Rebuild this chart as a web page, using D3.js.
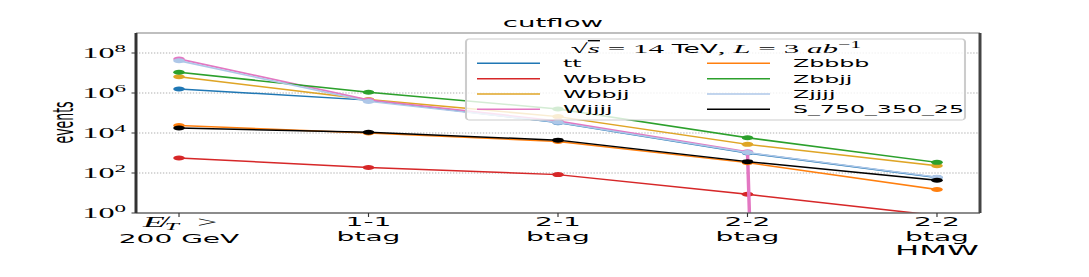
<!DOCTYPE html>
<html>
<head>
<meta charset="utf-8">
<script src="https://cdn.jsdelivr.net/npm/d3@7"></script>
<style>
  html, body { margin: 0; padding: 0; background: #fff; overflow: hidden; }
  svg { display: block; }
  text { font-family: "DejaVu Sans", sans-serif; fill: #000; }
  .math { font-family: "Liberation Serif", "DejaVu Serif", serif; }
</style>
</head>
<body>
<svg id="chart"></svg>
<script>
// the original picture is stretched sideways, so draw narrow and stretch the svg
var SX = 2.3;
var width = 1089, height = 277;
var innerW = width / SX;

var categories = ["met", "1-1", "2-1", "2-2", "2-2 HMW"];
var catLabels = [["", "200 GeV"], ["1-1", "btag"], ["2-1", "btag"], ["2-2", "btag"], ["2-2", "btag", "HMW"]];

var seriesNames = ["tt", "Wbbbb", "Wbbjj", "Wjjjj", "Zbbbb", "Zbbjj", "Zjjjj", "S_750_350_25"];
var seriesColors = ["#1f77b4", "#d62728", "#dfa526", "#e377c2", "#ff7f0e", "#2ca02c", "#aec7e8", "#000000"];

var tt    = [1.6e6, 4.4e5, 3.3e4, 1.0e3, 60];
var Wbbbb = [560, 190, 83, 8.6, 0.75];
var Wbbjj = [6.5e6, 4.7e5, 6.6e4, 2.7e3, 230];
var Wjjjj = [5.0e7, 4.5e5, 4.0e4, 1.15e3, 0];
var Zbbbb = [2.4e4, 1.0e4, 3.8e3, 330, 15];
var Zbbjj = [1.1e7, 1.08e6, 1.6e5, 5.8e3, 340];
var Zjjjj = [4.1e7, 3.8e5, 3.4e4, 1.05e3, 62];
var S_750_350_25 = [1.8e4, 1.08e4, 4.4e3, 370, 43];
var seriesValues = [tt, Wbbbb, Wbbjj, Wjjjj, Zbbbb, Zbbjj, Zjjjj, S_750_350_25];

var yTicks = [1, 1e2, 1e4, 1e6, 1e8];
var yExp = ["0", "2", "4", "6", "8"];

var plotL = 136 / SX, plotR = 980 / SX, plotT = 33, plotB = 213;

var svg = d3.select("#chart")
    .attr("width", width)
    .attr("height", height)
    .attr("viewBox", "0 0 " + innerW + " " + height)
    .attr("preserveAspectRatio", "none");

var x = d3.scalePoint().domain(categories).range([plotL, plotR]).padding(0.227);
var y = d3.scaleLog().domain([1, 1e9]).range([plotB, plotT]);

svg.append("defs").append("clipPath").attr("id", "plotclip")
    .append("rect")
    .attr("x", plotL).attr("y", plotT)
    .attr("width", plotR - plotL).attr("height", plotB - plotT);

// grid
svg.append("g").selectAll("line")
    .data(yTicks.slice(1))
    .enter().append("line")
    .attr("x1", plotL).attr("x2", plotR)
    .attr("y1", function (d) { return y(d); })
    .attr("y2", function (d) { return y(d); })
    .attr("stroke", "#b0b0b0")
    .attr("stroke-width", 0.9)
    .attr("stroke-dasharray", "0.6,0.7");

// series
var line = d3.line()
    .x(function (d, i) { return x(categories[i]); })
    .y(function (d) { return y(d > 0 ? d : 1e-300); });

var plot = svg.append("g").attr("clip-path", "url(#plotclip)");
seriesValues.forEach(function (vals, k) {
    var g = plot.append("g");
    g.append("path")
        .datum(vals)
        .attr("d", line)
        .attr("fill", "none")
        .attr("stroke", seriesColors[k])
        .attr("stroke-width", 1.5);
    var pts = vals.map(function (v, i) { return [i, v]; })
        .filter(function (d) { return d[1] > 0; });
    g.selectAll("circle")
        .data(pts)
        .enter().append("circle")
        .attr("cx", function (d) { return x(categories[d[0]]); })
        .attr("cy", function (d) { return y(d[1]); })
        .attr("r", 2.5)
        .attr("fill", seriesColors[k]);
});

// spines
var spines = [
    [plotL, plotT, plotR, plotT, "#aaaaaa"],
    [plotL, plotB, plotR, plotB, "#666666"],
    [plotL, plotT, plotL, plotB, "#333333"],
    [plotR, plotT, plotR, plotB, "#444444"]
];
svg.append("g").selectAll("line")
    .data(spines)
    .enter().append("line")
    .attr("x1", function (d) { return d[0]; })
    .attr("y1", function (d) { return d[1]; })
    .attr("x2", function (d) { return d[2]; })
    .attr("y2", function (d) { return d[3]; })
    .attr("stroke", function (d) { return d[4]; })
    .attr("stroke-width", 1.3);

// y axis ticks and labels
var yAxis = svg.append("g");
yTicks.forEach(function (t, i) {
    yAxis.append("line")
        .attr("x1", plotL - 4.5 / SX).attr("x2", plotL)
        .attr("y1", y(t)).attr("y2", y(t))
        .attr("stroke", "#333").attr("stroke-width", 1);
    var txt = yAxis.append("text")
        .attr("class", "math")
        .attr("x", 126 / SX)
        .attr("y", y(t) + 5)
        .attr("text-anchor", "end")
        .attr("font-size", 14);
    txt.append("tspan").text("10");
    txt.append("tspan").attr("font-size", 10).attr("dy", -6).text(yExp[i]);
});

// x ticks and labels
var xAxis = svg.append("g");
categories.forEach(function (c, i) {
    var cx = x(c);
    xAxis.append("line")
        .attr("x1", cx).attr("x2", cx)
        .attr("y1", plotB).attr("y2", plotB + 4)
        .attr("stroke", "#333").attr("stroke-width", 0.5);
    var lines = catLabels[i];
    if (i === 0) {
        var t0 = xAxis.append("text")
            .attr("class", "math")
            .attr("x", cx + 0.5).attr("y", 227)
            .attr("text-anchor", "middle")
            .attr("font-size", 15.5);
        t0.append("tspan").attr("font-style", "italic").text("E\u0338");
        t0.append("tspan").attr("font-style", "italic").attr("font-size", 11).attr("dy", 3).text("T");
        t0.append("tspan").attr("dy", -3).attr("dx", 8).text(">");
        xAxis.append("text")
            .attr("x", cx).attr("y", 243)
            .attr("text-anchor", "middle")
            .attr("font-size", 12.2)
            .text(lines[1]);
    } else {
        lines.forEach(function (s, j) {
            xAxis.append("text")
                .attr("x", cx).attr("y", 226.5 + j * 14.5)
                .attr("text-anchor", "middle")
                .attr("font-size", j === 2 ? 14 : 12.2)
                .text(s);
        });
    }
});

// title and y label
svg.append("text")
    .attr("x", 553 / SX).attr("y", 27)
    .attr("text-anchor", "middle")
    .attr("font-size", 12)
    .text("cutflow");

svg.append("text")
    .attr("transform", "translate(" + (73 / SX) + ",122.5) rotate(-90)")
    .attr("text-anchor", "middle")
    .attr("font-size", 12.5)
    .text("events");

// legend
var lg = svg.append("g");
lg.append("rect")
    .attr("x", 466 / SX).attr("y", 39)
    .attr("width", (965 - 466) / SX).attr("height", 81)
    .attr("rx", 1.3).attr("ry", 3)
    .attr("fill", "#fff").attr("fill-opacity", 0.8)
    .attr("stroke", "#cccccc").attr("stroke-width", 0.9);

var lt = lg.append("text")
    .attr("class", "math")
    .attr("x", 716 / SX).attr("y", 53)
    .attr("text-anchor", "middle")
    .attr("font-size", 13.5);
lt.append("tspan").text("\u221A");
lt.append("tspan").attr("font-style", "italic").style("text-decoration", "overline").text("s");
lt.append("tspan").text(" = 14 ");
lt.append("tspan").attr("font-family", "DejaVu Sans").attr("font-size", 11.5).text("TeV");
lt.append("tspan").text(",  ");
lt.append("tspan").attr("font-style", "italic").text("L");
lt.append("tspan").text(" = 3 ");
lt.append("tspan").attr("font-style", "italic").text("ab");
lt.append("tspan").attr("font-size", 9.5).attr("dy", -5).text("\u22121");

var rowY = [63.3, 78.7, 94, 109.3];
var colHandle = [477 / SX, 707 / SX];
var colText = [563 / SX, 793 / SX];
seriesNames.forEach(function (name, k) {
    var col = Math.floor(k / 4), row = k % 4;
    lg.append("line")
        .attr("x1", colHandle[col]).attr("x2", colHandle[col] + 63 / SX)
        .attr("y1", rowY[row]).attr("y2", rowY[row])
        .attr("stroke", seriesColors[k])
        .attr("stroke-width", 1.5);
    lg.append("text")
        .attr("x", colText[col]).attr("y", rowY[row] + 4.2)
        .attr("font-size", 10.3)
        .text(name);
});
</script>
</body>
</html>
